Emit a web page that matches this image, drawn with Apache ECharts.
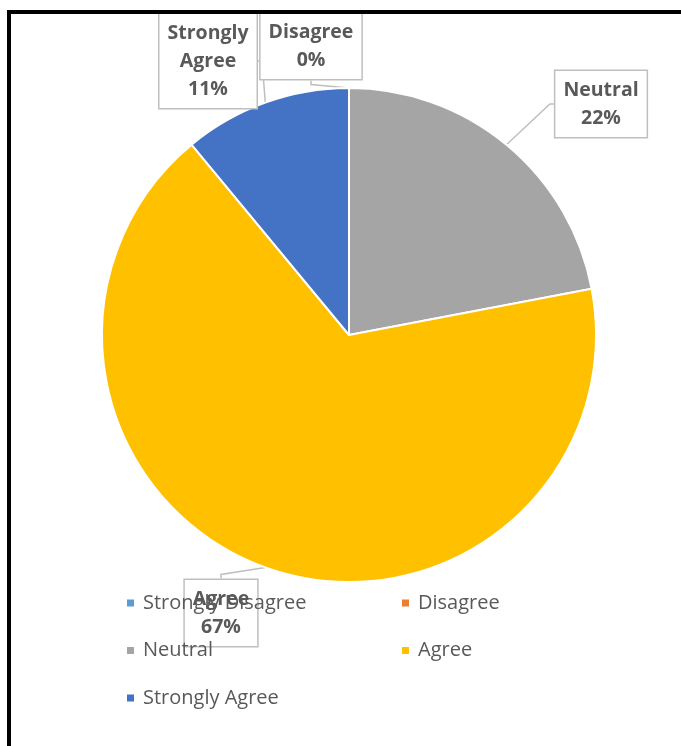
<!DOCTYPE html>
<html>
<head>
<meta charset="utf-8">
<script src="https://cdn.jsdelivr.net/npm/echarts@6/dist/echarts.min.js"></script>
<style>
html,body{margin:0;padding:0;background:#fff;}
#chart{width:681px;height:746px;}
</style>
</head>
<body>
<div id="chart"></div>
<script>
const categories = ['Strongly Disagree', 'Disagree', 'Neutral', 'Agree', 'Strongly Agree'];
const values = [0, 0, 22, 67, 11];
const colors = ['#5B9BD5', '#ED7D31', '#A5A5A5', '#FFC000', '#4472C4'];
const showLabel = [false, true, true, true, true];

// label box centres (layout only)
const labelPos = {
  1: [311, 46],
  2: [601, 104],
  3: [221, 613],
  4: [208, 61]
};

const chart = echarts.init(document.getElementById('chart'));
const data = categories.map((c, i) => ({
  name: c,
  value: values[i],
  itemStyle: { color: colors[i] },
  label: { show: showLabel[i] },
  labelLine: { show: showLabel[i] }
}));

const legendText = { fontFamily: 'Open Sans', fontSize: 20, color: '#595959', lineHeight: 24, padding: [0, 0, 0, 3] };

chart.setOption({
  animation: false,
  graphic: [{
    type: 'rect',
    z: 100,
    shape: { x: 9, y: 12, width: 720, height: 800 },
    style: { fill: 'none', stroke: '#000', lineWidth: 4 }
  }],
  legend: [{
    orient: 'vertical',
    left: 125, top: 591, padding: 0,
    z: 20,
    data: ['Strongly Disagree', 'Neutral', 'Strongly Agree'],
    icon: 'rect', itemWidth: 9, itemHeight: 9, itemGap: 23.5,
    textStyle: legendText
  }, {
    orient: 'vertical',
    left: 400, top: 591, padding: 0,
    z: 20,
    data: ['Disagree', 'Agree'],
    icon: 'rect', itemWidth: 9, itemHeight: 9, itemGap: 23.5,
    textStyle: legendText
  }],
  series: [{
    type: 'pie',
    center: [349, 335],
    radius: [0, 247],
    startAngle: 90,
    clockwise: true,
    avoidLabelOverlap: false,
    stillShowZeroSum: true,
    itemStyle: { borderColor: '#fff', borderWidth: 2 },
    label: {
      position: 'outside',
      formatter: function (p) {
        const name = p.dataIndex === 4 ? p.name.replace(' ', '\n') : p.name;
        return name.split('\n').map(s => '{b|' + s + '}').join('\n') + '\n{b|' + p.value + '%}';
      },
      rich: { b: { fontFamily: 'Open Sans', fontSize: 19.5, fontWeight: 'bold', color: '#595959', lineHeight: 28 } },
      backgroundColor: '#fff',
      borderColor: '#BFBFBF',
      borderWidth: 1.5,
      padding: [5, 8, 5, 8]
    },
    labelLine: { show: true, length: 4, length2: 4, lineStyle: { color: '#BFBFBF', width: 1.5 } },
    labelLayout: function (p) {
      const pos = labelPos[p.dataIndex];
      if (!pos) return {};
      return { x: pos[0], y: pos[1], align: 'center', verticalAlign: 'middle' };
    },
    data: data
  }]
});
</script>
</body>
</html>
